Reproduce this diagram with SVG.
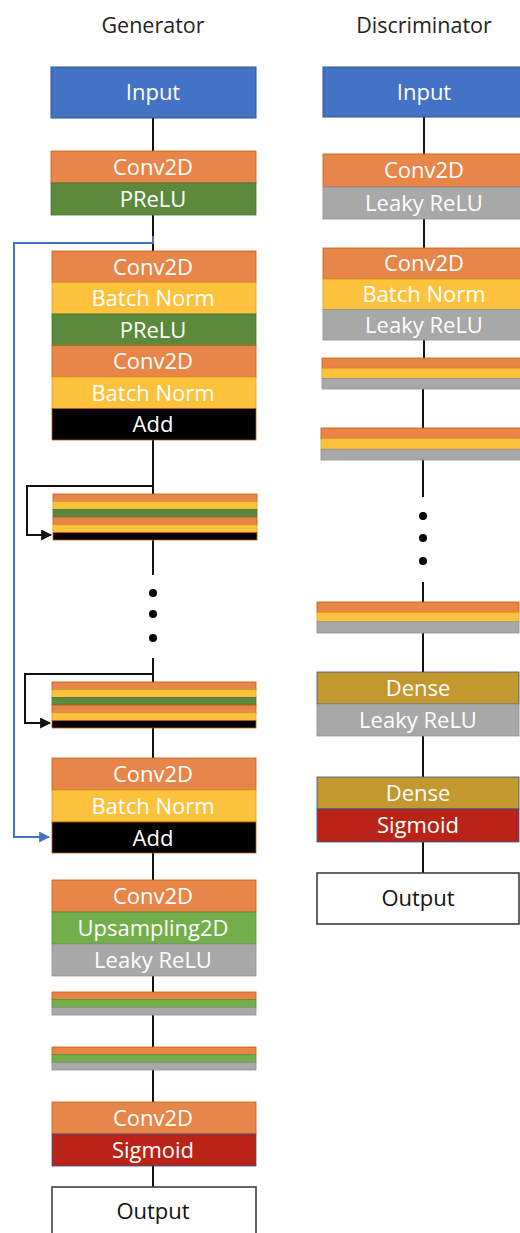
<svg xmlns="http://www.w3.org/2000/svg" width="520" height="1233" viewBox="0 0 520 1233">
<defs>
<style>
text{font-family:"Open Sans","Noto Sans","Liberation Sans",sans-serif;font-size:22px;text-anchor:middle;fill:#fff}
.title{fill:#222;font-size:21.5px}
.dark{fill:#111}
.inp{fill:#4472C4;stroke:#2F528F;stroke-width:1}
.conv{fill:#E8864A;stroke:#C55A11;stroke-width:0.8}
.bn{fill:#FFC23C;stroke:#D9A020;stroke-width:0.8}
.prelu{fill:#5B8A3C;stroke:#4A7030;stroke-width:0.8}
.add{fill:#000;stroke:#C55A11;stroke-width:0.8}
.up{fill:#72AE4A;stroke:#5A9038;stroke-width:0.8}
.leaky{fill:#A8A8A8;stroke:#8E8E8E;stroke-width:0.8}
.sig{fill:#BA2418;stroke:#2F528F;stroke-width:0.8}
.dense{fill:#C2982F;stroke:#2F528F;stroke-width:0.8}
.out{fill:#fff;stroke:#333;stroke-width:1.5}
.ln{fill:none;stroke:#111;stroke-width:2}
.blue{fill:none;stroke:#4472C4;stroke-width:2}
</style>
<marker id="ah" viewBox="0 0 10 10" refX="9" refY="5" markerWidth="5.5" markerHeight="5.5" orient="auto" markerUnits="strokeWidth"><path d="M0,0 L10,5 L0,10 z" fill="#111"/></marker>
<marker id="ahb" viewBox="0 0 10 10" refX="9" refY="5" markerWidth="5.5" markerHeight="5.5" orient="auto" markerUnits="strokeWidth"><path d="M0,0 L10,5 L0,10 z" fill="#4472C4"/></marker>
</defs>

<text class="title" x="153" y="33">Generator</text>
<text class="title" x="424" y="33">Discriminator</text>

<g id="connectors">
<path class="ln" d="M153 118 V151 M153 215 V251 M153 440 V494 M153 540 V575 M153 658 V682 M153 728 V758 M153 853 V880 M153 976 V992 M153 1015 V1047 M153 1070 V1102 M153 1166 V1187"/>
<path class="ln" d="M153 486 H27 V535 H51" marker-end="url(#ah)"/>
<path class="ln" d="M153 674 H25 V723 H50" marker-end="url(#ah)"/>
<path class="blue" d="M153 236 V243 H14 V837 H49" marker-end="url(#ahb)"/>
<path class="ln" d="M424 117 V154 M424 219 V248 M424 340 V358 M423 389 V428 M423 460 V497 M423 582 V602 M423 633 V672 M423 736 V777 M423 842 V873"/>
<circle cx="153" cy="593" r="4" fill="#000"/>
<circle cx="153" cy="614" r="4" fill="#000"/>
<circle cx="153" cy="638" r="4" fill="#000"/>
<circle cx="423" cy="516" r="4" fill="#000"/>
<circle cx="423" cy="538" r="4" fill="#000"/>
<circle cx="423" cy="561" r="4" fill="#000"/>
</g>

<!-- Generator -->
<g id="g-input"><rect class="inp" x="51" y="67" width="205" height="51"/><text x="153" y="100">Input</text></g>
<g id="g-conv1">
<rect class="conv" x="51" y="151" width="205" height="32"/><text x="153" y="175">Conv2D</text>
<rect class="prelu" x="51" y="183" width="205" height="32"/><text x="153" y="207">PReLU</text>
</g>
<g id="g-res1">
<rect class="conv" x="52" y="251" width="204" height="31.5"/><text x="153" y="275">Conv2D</text>
<rect class="bn" x="52" y="282.5" width="204" height="31.5"/><text x="153" y="306">Batch Norm</text>
<rect class="prelu" x="52" y="314" width="204" height="31.5"/><text x="153" y="338">PReLU</text>
<rect class="conv" x="52" y="345.5" width="204" height="31.5"/><text x="153" y="369">Conv2D</text>
<rect class="bn" x="52" y="377" width="204" height="31.5"/><text x="153" y="401">Batch Norm</text>
<rect class="add" x="52" y="408.5" width="204" height="31.5"/><text x="153" y="432">Add</text>
</g>
<g id="g-res2">
<rect class="conv" x="53" y="494" width="204" height="7.7"/>
<rect class="bn" x="53" y="501.7" width="204" height="7.7"/>
<rect class="prelu" x="53" y="509.4" width="204" height="7.7"/>
<rect class="conv" x="53" y="517.1" width="204" height="7.7"/>
<rect class="bn" x="53" y="524.8" width="204" height="7.7"/>
<rect class="add" x="53" y="532.5" width="204" height="7.5"/>
</g>
<g id="g-resN">
<rect class="conv" x="52" y="682" width="204" height="7.7"/>
<rect class="bn" x="52" y="689.7" width="204" height="7.7"/>
<rect class="prelu" x="52" y="697.4" width="204" height="7.7"/>
<rect class="conv" x="52" y="705.1" width="204" height="7.7"/>
<rect class="bn" x="52" y="712.8" width="204" height="7.7"/>
<rect class="add" x="52" y="720.5" width="204" height="7.5"/>
</g>
<g id="g-post">
<rect class="conv" x="52" y="758" width="204" height="32"/><text x="153" y="782">Conv2D</text>
<rect class="bn" x="52" y="790" width="204" height="32"/><text x="153" y="814">Batch Norm</text>
<rect class="add" x="52" y="822" width="204" height="31"/><text x="153" y="846">Add</text>
</g>
<g id="g-up1">
<rect class="conv" x="52" y="880" width="204" height="32"/><text x="153" y="904">Conv2D</text>
<rect class="up" x="52" y="912" width="204" height="32"/><text x="153" y="936">Upsampling2D</text>
<rect class="leaky" x="52" y="944" width="204" height="32"/><text x="153" y="968">Leaky ReLU</text>
</g>
<g id="g-up2">
<rect class="conv" x="52" y="992" width="204" height="7.7"/>
<rect class="up" x="52" y="999.7" width="204" height="7.7"/>
<rect class="leaky" x="52" y="1007.4" width="204" height="7.6"/>
</g>
<g id="g-up3">
<rect class="conv" x="52" y="1047" width="204" height="7.7"/>
<rect class="up" x="52" y="1054.7" width="204" height="7.7"/>
<rect class="leaky" x="52" y="1062.4" width="204" height="7.6"/>
</g>
<g id="g-final">
<rect class="conv" x="52" y="1102" width="204" height="32"/><text x="153" y="1126">Conv2D</text>
<rect class="sig" x="52" y="1134" width="204" height="32"/><text x="153" y="1158">Sigmoid</text>
</g>
<g id="g-output"><rect class="out" x="52" y="1187" width="204" height="52"/><text class="dark" x="153" y="1219">Output</text></g>

<!-- Discriminator -->
<g id="d-input"><rect class="inp" x="323" y="67" width="202" height="50"/><text x="424" y="100">Input</text></g>
<g id="d-conv1">
<rect class="conv" x="323" y="154" width="202" height="33"/><text x="424" y="178">Conv2D</text>
<rect class="leaky" x="323" y="187" width="202" height="32"/><text x="424" y="211">Leaky ReLU</text>
</g>
<g id="d-conv2">
<rect class="conv" x="323" y="248" width="202" height="31"/><text x="424" y="271">Conv2D</text>
<rect class="bn" x="323" y="279" width="202" height="30.5"/><text x="424" y="302">Batch Norm</text>
<rect class="leaky" x="323" y="309.5" width="202" height="30.5"/><text x="424" y="333">Leaky ReLU</text>
</g>
<g id="d-conv3">
<rect class="conv" x="322" y="358" width="202" height="10.3"/>
<rect class="bn" x="322" y="368.3" width="202" height="10.3"/>
<rect class="leaky" x="322" y="378.6" width="202" height="10.4"/>
</g>
<g id="d-conv4">
<rect class="conv" x="321" y="428" width="202" height="10.6"/>
<rect class="bn" x="321" y="438.6" width="202" height="10.6"/>
<rect class="leaky" x="321" y="449.2" width="202" height="10.8"/>
</g>
<g id="d-convN">
<rect class="conv" x="317" y="602" width="202" height="10.3"/>
<rect class="bn" x="317" y="612.3" width="202" height="9.5"/>
<rect class="leaky" x="317" y="621.8" width="202" height="11.2"/>
</g>
<g id="d-dense1">
<rect class="dense" x="317" y="672" width="202" height="32"/><text x="418" y="696">Dense</text>
<rect class="leaky" x="317" y="704" width="202" height="32"/><text x="418" y="728">Leaky ReLU</text>
</g>
<g id="d-dense2">
<rect class="dense" x="317" y="777" width="202" height="32"/><text x="418" y="801">Dense</text>
<rect class="sig" x="317" y="809" width="202" height="33"/><text x="418" y="833">Sigmoid</text>
</g>
<g id="d-output"><rect class="out" x="317" y="873" width="202" height="51"/><text class="dark" x="418" y="906">Output</text></g>
</svg>
